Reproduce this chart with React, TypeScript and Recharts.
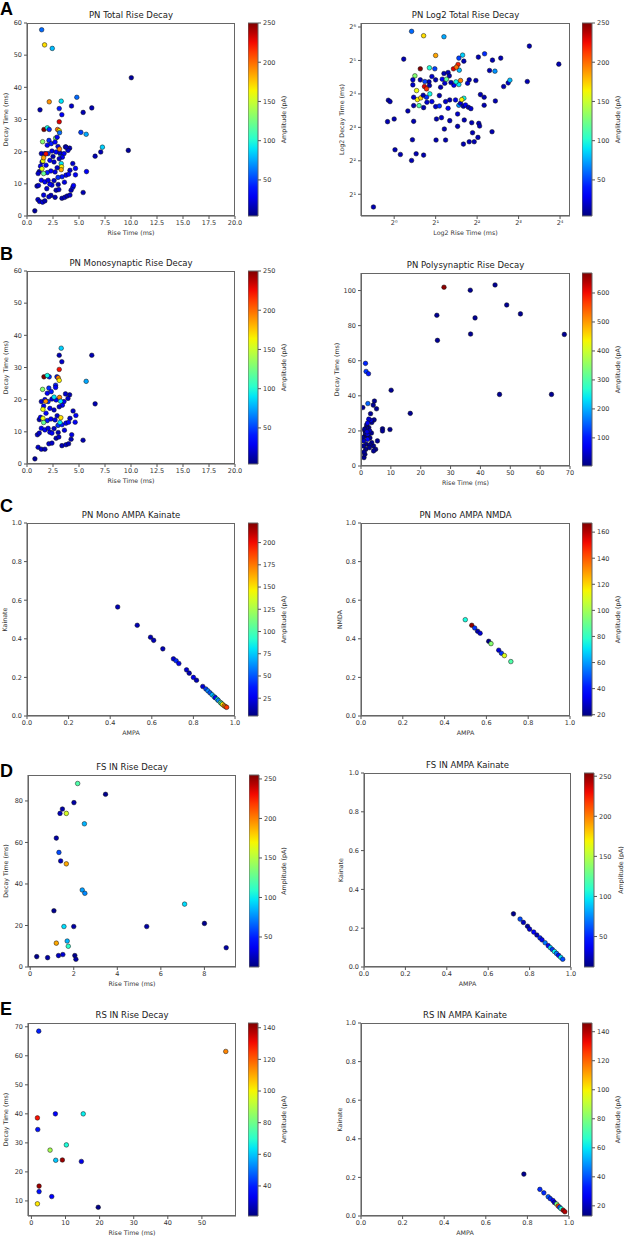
import { ScatterChart, Scatter, XAxis, YAxis, ComposedChart, ReferenceArea } from 'recharts';

type Pt = [number, number, number]; // [x, y, amplitude]

// A - PN total (rise ms, decay ms, amplitude pA)
const pnTotal: Pt[] = [
  [1.41, 57.9, 60], [1.69, 53.2, 170], [2.43, 52.1, 80], [10.03, 43.0, 10],
  [1.25, 33.0, 15], [2.14, 35.5, 190], [3.29, 35.7, 90], [4.79, 36.9, 60], [3.1, 33.4, 40], [4.28, 34.2, 20], [5.4, 32.2, 15], [6.23, 33.6, 15], [3.35, 31.5, 30],
  [3.1, 29.3, 230], [1.63, 26.9, 250], [1.95, 27.4, 95], [2.14, 26.9, 45], [2.94, 26.9, 200], [3.1, 26.5, 165], [3.13, 25.9, 60], [5.18, 26.0, 50], [5.69, 25.4, 75],
  [2.75, 24.2, 130], [1.5, 23.1, 130], [2.11, 23.5, 45], [7.25, 21.4, 85], [9.74, 20.4, 10], [7.09, 19.9, 15], [6.55, 18.6, 15], [5.72, 13.8, 30], [5.4, 7.3, 15],
  [4.4, 16.3, 20], [4.66, 14.8, 35], [4.66, 12.8, 30], [4.1, 21.1, 15], [3.7, 21.5, 25], [3.23, 19.2, 90], [3.29, 16.3, 90], [3.32, 15.3, 165], [3.29, 14.4, 185],
  [1.45, 16.8, 25], [1.18, 13.8, 15], [0.96, 9.3, 20], [1.1, 9.5, 20], [1.05, 5.1, 20], [1.21, 4.5, 20], [1.5, 4.3, 25], [2.3, 6.4, 20], [0.75, 1.6, 10],
  [1.72, 4.7, 15], [2.1, 6.0, 20], [2.8, 8.0, 15], [3.06, 8.2, 20], [2.4, 9.6, 30], [2.2, 9.9, 35], [3.36, 5.5, 15], [3.63, 5.8, 20], [3.86, 6.2, 15], [4.13, 6.5, 20], [4.24, 8.0, 15], [4.4, 8.9, 25], [4.47, 9.5, 30],
  [4.13, 14.2, 20], [3.75, 12.7, 30], [3.37, 12.2, 40], [2.98, 12.0, 45], [2.7, 13.7, 25], [2.3, 14.0, 30], [1.95, 13.5, 40], [1.07, 13.2, 20], [1.38, 11.1, 30], [1.72, 10.6, 35], [2.03, 11.1, 25],
  [2.6, 16.8, 20], [2.2, 17.3, 30], [1.83, 15.8, 35], [1.38, 19.4, 20], [1.72, 19.4, 30], [2.03, 19.4, 45], [2.4, 20.2, 25], [2.8, 19.9, 35], [3.17, 19.6, 20], [3.56, 19.4, 30], [3.94, 20.4, 20], [3.75, 21.4, 15],
  [1.95, 22.0, 30], [2.33, 22.5, 40], [2.7, 23.0, 35], [2.98, 21.6, 25], [3.4, 18.3, 30], [3.1, 17.8, 20], [2.5, 18.5, 15], [2.9, 15.0, 20], [1.3, 15.5, 30], [3.6, 10.5, 25], [3.0, 9.8, 15], [2.6, 11.0, 20],
  [1.9, 8.5, 20], [1.6, 6.5, 25], [2.7, 5.8, 15], [4.0, 13.0, 35], [2.9, 24.5, 30],
  [3.13, 20.8, 195], [1.82, 19.3, 225], [1.53, 17.1, 160], [1.6, 18.1, 185], [1.44, 14.7, 160], [1.6, 13.2, 120],
];

// A - PN total, log2 rise vs log2 decay
const pnLog2: Pt[] = [
  [0.42, 5.87, 60], [0.71, 5.74, 170], [1.2, 5.71, 75], [3.26, 5.43, 15], [3.97, 4.89, 15], [0.23, 5.04, 15], [1.0, 5.15, 185], [1.65, 5.16, 85], [1.56, 5.07, 50], [1.68, 4.98, 15], [2.03, 5.1, 15], [2.18, 5.2, 45], [2.37, 5.01, 15], [2.57, 5.07, 15],
  [0.63, 4.75, 250], [0.85, 4.78, 100], [0.98, 4.75, 50], [1.43, 4.75, 230], [1.54, 4.88, 220], [1.57, 4.71, 80], [1.5, 4.8, 200], [2.3, 4.7, 15], [2.43, 4.68, 70],
  [0.5, 4.54, 130], [0.54, 4.1, 160], [0.56, 3.83, 165], [0.64, 3.88, 175], [0.6, 3.65, 115], [0.45, 4.27, 20], [0.47, 3.9, 20], [0.47, 3.65, 15],
  [-0.14, 3.81, 15], [-0.1, 3.77, 15], [0.0, 3.25, 15], [-0.16, 3.17, 15], [0.33, 3.49, 15], [0.47, 3.18, 15], [0.44, 2.63, 15], [0.02, 2.33, 15], [0.15, 2.19, 15], [0.42, 2.01, 15], [0.53, 2.21, 15], [0.71, 2.17, 15],
  [1.01, 2.62, 15], [1.24, 2.62, 15], [1.53, 3.03, 15], [1.67, 2.5, 15], [1.81, 2.57, 15], [1.93, 2.57, 15], [2.02, 2.7, 15], [1.89, 2.84, 15], [2.04, 3.12, 15], [2.06, 3.04, 15], [2.36, 2.87, 15], [1.87, 3.14, 15], [1.21, 2.95, 15], [1.02, 3.25, 15], [1.14, 3.29, 20], [1.34, 3.2, 15], [1.69, 3.22, 15],
  [0.79, 3.75, 20], [0.71, 3.59, 15], [0.91, 3.77, 25], [1.0, 3.62, 20], [1.09, 3.95, 15], [1.09, 3.64, 45], [1.24, 3.77, 20], [1.3, 3.57, 30], [1.34, 3.82, 15], [1.53, 3.4, 20], [1.48, 3.82, 25], [1.56, 3.66, 70], [1.6, 3.72, 20], [1.67, 3.63, 15], [1.72, 3.67, 30], [1.79, 3.6, 15], [1.85, 3.56, 20],
  [2.08, 3.98, 15], [2.17, 3.9, 15], [2.44, 3.79, 15], [2.17, 3.66, 15], [2.64, 4.22, 15], [2.75, 4.33, 20], [2.79, 4.41, 80], [3.21, 4.37, 15],
  [1.81, 4.42, 15], [1.97, 4.4, 15], [1.77, 4.32, 20], [1.44, 4.26, 30], [1.37, 4.34, 15], [1.22, 4.32, 20], [1.16, 4.44, 30], [1.12, 4.2, 15],
  [0.84, 4.36, 15], [0.91, 4.52, 20], [0.74, 4.37, 50], [0.85, 4.25, 15], [0.7, 3.96, 15], [0.78, 3.9, 45], [1.0, 4.42, 15], [1.2, 4.61, 15], [1.3, 4.64, 15], [1.33, 4.54, 15], [0.63, 4.42, 15], [0.45, 4.42, 20], [-0.5, 0.62, 15],
  [1.68, 3.87, 95], [1.63, 3.83, 165], [1.6, 4.4, 195], [1.56, 4.28, 90], [1.49, 4.36, 95], [1.26, 4.44, 120], [0.73, 4.22, 230], [0.78, 4.15, 215], [0.86, 4.0, 95],
];

// B - PN monosynaptic
const pnMono: Pt[] = [
  [3.29, 36.0, 85], [3.1, 33.8, 15], [3.35, 31.8, 20], [6.23, 33.8, 15], [2.14, 27.1, 45], [2.88, 27.1, 40], [2.75, 24.5, 40], [2.75, 23.8, 30], [2.1, 23.6, 45], [5.69, 25.7, 75], [6.55, 18.7, 15],
  [3.7, 21.8, 20], [4.1, 21.5, 15], [1.38, 19.4, 20], [1.72, 20.0, 35], [2.03, 19.4, 45], [2.4, 20.2, 25], [2.8, 19.9, 35], [3.56, 19.4, 30], [3.94, 20.4, 20], [1.95, 22.0, 30], [2.33, 22.5, 40],
  [1.6, 18.0, 30], [2.2, 17.3, 30], [2.6, 16.8, 20], [1.83, 15.8, 35], [1.18, 13.8, 15], [1.3, 14.5, 30], [1.95, 13.5, 40], [2.3, 14.0, 30], [2.7, 13.7, 25], [2.98, 12.0, 45], [3.37, 12.2, 40], [3.75, 12.7, 30], [4.13, 14.2, 20],
  [4.63, 13.0, 30], [4.7, 15.1, 35], [4.43, 16.5, 20], [0.76, 1.6, 10], [1.0, 9.1, 20], [1.18, 9.6, 20], [1.07, 5.2, 20], [1.38, 4.6, 20], [1.72, 4.6, 15], [2.1, 6.3, 20], [2.4, 6.5, 20], [2.8, 8.0, 15], [3.06, 8.4, 20],
  [2.2, 9.9, 35], [2.4, 9.6, 30], [3.36, 5.7, 15], [3.75, 6.0, 20], [4.0, 6.3, 15], [4.24, 7.7, 15], [4.3, 9.1, 25], [5.39, 7.4, 15], [1.38, 11.1, 30], [1.72, 10.6, 35], [2.03, 11.1, 25], [3.6, 10.5, 25],
  [3.0, 9.8, 15], [2.6, 11.0, 20], [3.4, 18.3, 30], [3.1, 17.8, 20], [2.9, 15.0, 20], [4.0, 13.0, 35],
  [3.1, 29.4, 225], [1.63, 27.1, 250], [1.95, 27.5, 95], [3.0, 26.8, 195], [3.1, 26.0, 165], [1.5, 23.2, 130], [3.13, 20.7, 195], [2.6, 20.8, 90], [3.23, 19.5, 90], [1.8, 19.5, 190],
  [1.53, 17.0, 160], [1.53, 14.2, 160], [1.6, 12.9, 120], [3.17, 12.9, 90], [3.25, 14.4, 170],
];

// B - PN polysynaptic
const pnPoly: Pt[] = [
  [36.6, 100.2, 15], [44.9, 103.2, 15], [48.8, 91.8, 15], [53.4, 86.7, 15], [25.4, 85.9, 15], [38.2, 84.4, 15], [25.6, 71.6, 15], [36.7, 75.2, 15], [68.1, 75.0, 15], [46.4, 40.8, 15], [63.8, 40.8, 15],
  [1.5, 58.5, 110], [1.7, 53.9, 120], [2.5, 52.6, 100], [10.1, 43.2, 15], [16.5, 30.0, 15], [0.6, 33.3, 15], [4.5, 37.0, 15], [4.1, 34.7, 15], [5.2, 32.6, 15], [3.2, 29.8, 15], [4.4, 26.3, 15],
  [7.2, 21.2, 15], [7.2, 20.0, 15], [9.7, 20.8, 15], [1.0, 4.8, 15], [1.3, 6.7, 15], [1.6, 9.5, 15], [1.8, 12.4, 15], [2.6, 21.9, 15], [3.6, 24.8, 15], [4.2, 11.4, 15], [4.9, 9.5, 15], [4.2, 8.6, 15],
  [5.5, 14.3, 15], [3.6, 13.3, 15], [1.3, 17.1, 15], [1.3, 20.0, 15], [1.8, 22.0, 30], [0.8, 11.4, 15], [0.6, 16.2, 15], [1.5, 18.5, 15], [2.5, 17.0, 15], [3.0, 16.0, 15], [1.9, 23.5, 15],
  [3.0, 12.0, 15], [1.2, 21.0, 15], [2.8, 10.5, 15], [3.5, 18.8, 15], [1.0, 8.0, 15],
  [2.3, 35.6, 150], [3.3, 26.0, 60], [2.2, 15.2, 80], [2.2, 18.1, 60], [2.9, 20.0, 40], [2.6, 26.7, 50], [0.9, 14.3, 40], [2.0, 19.5, 60], [2.2, 24.5, 70], [27.8, 101.9, 660],
];

// C - PN mono AMPA / Kainate, AMPA / NMDA
const pnAmpaKainate: Pt[] = [
  [0.436, 0.565, 15], [0.53, 0.47, 15], [0.594, 0.408, 15], [0.609, 0.392, 15], [0.653, 0.348, 15], [0.704, 0.296, 20], [0.717, 0.286, 40], [0.73, 0.272, 25], [0.767, 0.239, 20],
  [0.78, 0.222, 15], [0.8, 0.2, 25], [0.815, 0.185, 15], [0.845, 0.153, 20], [0.86, 0.14, 45], [0.87, 0.13, 60], [0.88, 0.12, 50], [0.89, 0.11, 70], [0.9, 0.1, 80], [0.905, 0.095, 30],
  [0.915, 0.086, 85], [0.92, 0.08, 60], [0.93, 0.07, 110], [0.935, 0.065, 90], [0.94, 0.06, 150], [0.948, 0.053, 175], [0.955, 0.048, 165], [0.96, 0.045, 190],
];
const pnAmpaNmda: Pt[] = [
  [0.499, 0.499, 75], [0.53, 0.47, 165], [0.544, 0.456, 45], [0.558, 0.439, 25], [0.57, 0.429, 30], [0.611, 0.387, 20], [0.622, 0.375, 95], [0.659, 0.341, 30], [0.672, 0.325, 45], [0.686, 0.313, 110], [0.717, 0.282, 85],
];

// D - FS IN
const fsRiseDecay: Pt[] = [
  [2.18, 88.4, 120], [3.46, 83.2, 15], [2.01, 79.2, 20], [1.48, 76.1, 20], [1.37, 74.0, 25], [1.66, 74.0, 160], [2.49, 69.0, 85], [1.2, 62.1, 20], [1.32, 55.2, 60], [1.4, 51.1, 25], [1.66, 49.7, 190],
  [2.39, 37.1, 80], [2.51, 35.5, 75], [7.09, 30.3, 95], [1.09, 27.1, 15], [5.35, 19.5, 20], [8.0, 21.0, 15], [9.0, 9.3, 20], [0.3, 5.0, 15], [0.8, 4.5, 20], [1.2, 11.5, 190], [1.3, 5.5, 25],
  [1.55, 19.5, 95], [1.7, 12.5, 85], [1.75, 10.0, 110], [2.0, 19.5, 20], [2.05, 5.5, 15], [2.1, 3.7, 20], [1.5, 6.0, 30],
];
const fsAmpaKainate: Pt[] = [
  [0.722, 0.274, 15], [0.754, 0.247, 60], [0.77, 0.23, 25], [0.79, 0.21, 20], [0.8, 0.195, 30], [0.82, 0.18, 40], [0.835, 0.165, 25], [0.85, 0.15, 50], [0.86, 0.14, 35],
  [0.875, 0.125, 70], [0.89, 0.11, 40], [0.9, 0.1, 90], [0.91, 0.09, 55], [0.92, 0.08, 100], [0.93, 0.07, 70], [0.94, 0.06, 45], [0.95, 0.05, 95], [0.96, 0.04, 60],
];

// E - RS IN
const rsRiseDecay: Pt[] = [
  [2.15, 68.5, 40], [57.0, 61.5, 115], [1.76, 38.6, 130], [7.03, 40.0, 35], [15.2, 40.0, 65], [1.86, 34.6, 38], [10.25, 29.3, 68], [5.47, 27.5, 88],
  [7.13, 24.0, 60], [9.08, 24.1, 140], [14.65, 23.6, 32], [2.25, 15.1, 140], [2.25, 13.2, 38], [5.96, 11.5, 36], [1.76, 9.0, 102], [19.6, 7.8, 22],
];
const rsAmpaKainate: Pt[] = [
  [0.783, 0.217, 15], [0.86, 0.138, 35], [0.879, 0.12, 35], [0.9, 0.1, 40], [0.91, 0.09, 35], [0.923, 0.08, 30], [0.93, 0.07, 20], [0.94, 0.062, 80],
  [0.948, 0.052, 125], [0.955, 0.045, 40], [0.962, 0.038, 65], [0.972, 0.03, 140], [0.98, 0.022, 140],
];

const riseTicks = [0, 2.5, 5, 7.5, 10, 12.5, 15, 17.5, 20];
const decayTicks = [0, 10, 20, 30, 40, 50, 60];
const log2RiseTicks = [0, 1, 2, 3, 4];
const log2DecayTicks = [1, 2, 3, 4, 5, 6];
const fracTicks = [0, 0.2, 0.4, 0.6, 0.8, 1];
const ampTicks250 = [50, 100, 150, 200, 250];

const FONT = '"DejaVu Sans", sans-serif';
const SUP = ['⁰', '¹', '²', '³', '⁴', '⁵', '⁶'];
const fmt1 = (v: number) => v.toFixed(1);
const fmtPow = (v: number) => '2' + SUP[v];

// matplotlib jet
const JR = [[0, 0], [0.35, 0], [0.66, 1], [0.89, 1], [1, 0.5]];
const JG = [[0, 0], [0.125, 0], [0.375, 1], [0.64, 1], [0.91, 0], [1, 0]];
const JB = [[0, 0.5], [0.11, 1], [0.34, 1], [0.65, 0], [1, 0]];
const seg = (s: number[][], t: number) => {
  for (let i = 1; i < s.length; i++) {
    if (t <= s[i][0]) {
      const [t0, v0] = s[i - 1];
      const [t1, v1] = s[i];
      return v0 + ((t - t0) / (t1 - t0)) * (v1 - v0);
    }
  }
  return s[s.length - 1][1];
};
const jet = (t: number) => {
  const c = Math.max(0, Math.min(1, t));
  const h = (v: number) => Math.round(v * 255).toString(16).padStart(2, '0');
  return '#' + h(seg(JR, c)) + h(seg(JG, c)) + h(seg(JB, c));
};

type Cfg = {
  data: Pt[];
  title: string;
  xLabel: string;
  yLabel: string;
  rect: [number, number, number, number];
  xDomain: [number, number];
  yDomain: [number, number];
  xTicks: number[];
  yTicks: number[];
  xFmt?: (v: number) => string;
  yFmt?: (v: number) => string;
  amp: [number, number];
  ampTicks: number[];
  cbX: number;
  yLabelX: number;
  cbLabelX: number;
};

const LEFT = { cbX: 248, cbLabelX: 283 };
const RIGHT = { cbX: 582, cbLabelX: 617 };

const panels: Cfg[] = [
  { data: pnTotal, title: 'PN Total Rise Decay', xLabel: 'Rise Time (ms)', yLabel: 'Decay Time (ms)', rect: [27, 23, 208, 193],
    xDomain: [0, 20], yDomain: [0, 60], xTicks: riseTicks, yTicks: decayTicks, xFmt: fmt1, amp: [4, 250], ampTicks: ampTicks250, yLabelX: 5, ...LEFT },
  { data: pnLog2, title: 'PN Log2 Total Rise Decay', xLabel: 'Log2 Rise Time (ms)', yLabel: 'Log2 Decay Time (ms)', rect: [361, 23, 209, 193],
    xDomain: [-0.8, 4.24], yDomain: [0.35, 6.12], xTicks: log2RiseTicks, yTicks: log2DecayTicks, xFmt: fmtPow, yFmt: fmtPow, amp: [4, 250], ampTicks: ampTicks250, yLabelX: 341, ...RIGHT },
  { data: pnMono, title: 'PN Monosynaptic Rise Decay', xLabel: 'Rise Time (ms)', yLabel: 'Decay Time (ms)', rect: [27, 271, 208, 193],
    xDomain: [0, 20], yDomain: [0, 60], xTicks: riseTicks, yTicks: decayTicks, xFmt: fmt1, amp: [4, 250], ampTicks: ampTicks250, yLabelX: 5, ...LEFT },
  { data: pnPoly, title: 'PN Polysynaptic Rise Decay', xLabel: 'Rise Time (ms)', yLabel: 'Decay Time (ms)', rect: [361, 273, 209, 193],
    xDomain: [0, 70], yDomain: [0, 110], xTicks: [0, 10, 20, 30, 40, 50, 60, 70], yTicks: [0, 20, 40, 60, 80, 100], amp: [3, 669], ampTicks: [100, 200, 300, 400, 500, 600], yLabelX: 336, ...RIGHT },
  { data: pnAmpaKainate, title: 'PN Mono AMPA Kainate', xLabel: 'AMPA', yLabel: 'Kainate', rect: [27, 523, 208, 193],
    xDomain: [0, 1], yDomain: [0, 1], xTicks: fracTicks, yTicks: fracTicks, xFmt: fmt1, yFmt: fmt1, amp: [5, 222], ampTicks: [25, 50, 75, 100, 125, 150, 175, 200], yLabelX: 4, ...LEFT },
  { data: pnAmpaNmda, title: 'PN Mono AMPA NMDA', xLabel: 'AMPA', yLabel: 'NMDA', rect: [361, 523, 209, 193],
    xDomain: [0, 1], yDomain: [0, 1], xTicks: fracTicks, yTicks: fracTicks, xFmt: fmt1, yFmt: fmt1, amp: [19, 167], ampTicks: [20, 40, 60, 80, 100, 120, 140, 160], yLabelX: 339, ...RIGHT },
  { data: fsRiseDecay, title: 'FS IN Rise Decay', xLabel: 'Rise Time (ms)', yLabel: 'Decay Time (ms)', rect: [28, 775, 208, 192],
    xDomain: [-0.1, 9.45], yDomain: [0, 92.5], xTicks: [0, 2, 4, 6, 8], yTicks: [0, 20, 40, 60, 80], amp: [12, 255], ampTicks: ampTicks250, yLabelX: 5, cbX: 249, cbLabelX: 283 },
  { data: fsAmpaKainate, title: 'FS IN AMPA Kainate', xLabel: 'AMPA', yLabel: 'Kainate', rect: [364, 773, 207, 194],
    xDomain: [0, 1], yDomain: [0, 1], xTicks: fracTicks, yTicks: fracTicks, xFmt: fmt1, yFmt: fmt1, amp: [12, 254], ampTicks: ampTicks250, yLabelX: 340, cbX: 584, cbLabelX: 620 },
  { data: rsRiseDecay, title: 'RS IN Rise Decay', xLabel: 'Rise Time (ms)', yLabel: 'Decay Time (ms)', rect: [28, 1023, 208, 193],
    xDomain: [-1, 60], yDomain: [4.8, 71.3], xTicks: [0, 10, 20, 30, 40, 50], yTicks: [10, 20, 30, 40, 50, 60, 70], amp: [21, 143], ampTicks: [40, 60, 80, 100, 120, 140], yLabelX: 5, ...LEFT },
  { data: rsAmpaKainate, title: 'RS IN AMPA Kainate', xLabel: 'AMPA', yLabel: 'Kainate', rect: [361, 1023, 208, 193],
    xDomain: [0, 1], yDomain: [0, 1], xTicks: fracTicks, yTicks: fracTicks, xFmt: fmt1, yFmt: fmt1, amp: [13, 146], ampTicks: [20, 40, 60, 80, 100, 120, 140], yLabelX: 339, ...RIGHT },
];

const letters: [string, number][] = [['A', 15], ['B', 260], ['C', 512], ['D', 777], ['E', 1015]];

const YW = 45;
const XH = 30;
const PAD = 8; // room round the plot so edge tick labels are not clipped
const tickStyle = { fontSize: 6.5, fill: '#333', fontFamily: FONT };

const Panel = ({ p }: { p: Cfg }) => {
  const [x, y, w, h] = p.rect;
  const [lo, hi] = p.amp;
  const rows = p.data.map(([px, py, a]) => ({ x: px, y: py, a }));
  return (
    <>
      <div style={{ position: 'absolute', left: x - YW, top: y - PAD }}>
        <ScatterChart width={w + YW + 2 * PAD} height={h + XH + PAD} margin={{ top: PAD, right: 2 * PAD, bottom: 0, left: 0 }}>
          <XAxis type="number" dataKey="x" domain={p.xDomain} ticks={p.xTicks} allowDataOverflow interval={0}
            height={XH} tickSize={3} tickMargin={1} stroke="#555" tick={tickStyle} tickFormatter={p.xFmt} />
          <YAxis type="number" dataKey="y" domain={p.yDomain} ticks={p.yTicks} allowDataOverflow interval={0}
            width={YW} tickSize={3} tickMargin={2} stroke="#555" tick={tickStyle} tickFormatter={p.yFmt} />
          <Scatter data={rows} isAnimationActive={false}
            shape={(s: any) => (
              <circle cx={s.cx} cy={s.cy} r={2.3} fill={jet((s.payload.a - lo) / (hi - lo))} stroke="#111" strokeWidth={0.5} />
            )} />
        </ScatterChart>
      </div>
      <div style={{ position: 'absolute', left: x, top: y, width: w, height: h, border: '1px solid #666', boxSizing: 'border-box', pointerEvents: 'none' }} />
      <div style={{ position: 'absolute', left: p.cbX, top: y - PAD }}>
        <ComposedChart width={40} height={h + 2 * PAD} data={[{ x: 0 }, { x: 1 }]} margin={{ top: PAD, right: 0, bottom: PAD, left: 0 }}>
          <XAxis type="number" dataKey="x" domain={[0, 1]} hide />
          <YAxis type="number" orientation="right" domain={[lo, hi]} ticks={p.ampTicks} allowDataOverflow interval={0}
            width={30} tickSize={3} tickMargin={2} axisLine={false} stroke="#555" tick={tickStyle} />
          <ReferenceArea x1={0} x2={1} y1={lo} y2={hi} fill="url(#jet)" fillOpacity={1} stroke="#666" strokeWidth={1} />
        </ComposedChart>
      </div>
    </>
  );
};

const stops = Array.from({ length: 21 }, (_, i) => i / 20);

export default function App() {
  return (
    <div style={{ position: 'absolute', left: 0, top: 0, width: 624, height: 1240, background: '#fff', fontFamily: FONT }}>
      <svg width={0} height={0} style={{ position: 'absolute' }}>
        <defs>
          <linearGradient id="jet" x1="0" y1="1" x2="0" y2="0">
            {stops.map((t) => <stop key={t} offset={t} stopColor={jet(t)} />)}
          </linearGradient>
        </defs>
      </svg>
      {panels.map((p) => <Panel key={p.title} p={p} />)}
      <svg width={624} height={1240} style={{ position: 'absolute', left: 0, top: 0, pointerEvents: 'none' }}>
        {letters.map(([l, by]) => (
          <text key={l} x={0} y={by} fontSize={18} fontWeight="bold" fontFamily='"Liberation Sans", Arial, sans-serif' fill="#000">{l}</text>
        ))}
        {panels.map((p) => {
          const [x, y, w, h] = p.rect;
          const cy = y + h / 2;
          return (
            <g key={p.title} fontFamily={FONT}>
              <text x={x + w / 2} y={y - 5} textAnchor="middle" fontSize={8.5} fill="#222">{p.title}</text>
              <text x={x + w / 2} y={y + h + 19} textAnchor="middle" fontSize={6.3} fill="#333">{p.xLabel}</text>
              <text transform={`translate(${p.yLabelX + 2.5},${cy}) rotate(-90)`} textAnchor="middle" fontSize={6.3} fill="#333">{p.yLabel}</text>
              <text transform={`translate(${p.cbLabelX + 2.5},${cy}) rotate(-90)`} textAnchor="middle" fontSize={6.3} fill="#333">Amplitude (pA)</text>
            </g>
          );
        })}
      </svg>
    </div>
  );
}
